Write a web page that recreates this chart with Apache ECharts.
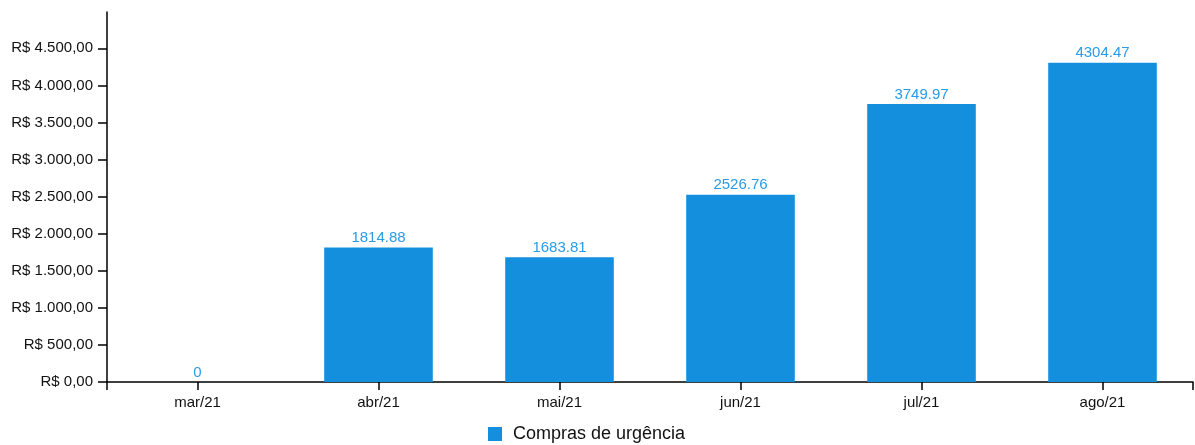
<!DOCTYPE html>
<html>
<head>
<meta charset="utf-8">
<script src="https://cdn.jsdelivr.net/npm/echarts@6/dist/echarts.min.js"></script>
<style>
  html, body { margin: 0; padding: 0; background: #fff; }
  #chart_001 { width: 1195px; height: 445px; }
</style>
</head>
<body>
<div id="chart_001"></div>
<script>
var meses = ['mar/21', 'abr/21', 'mai/21', 'jun/21', 'jul/21', 'ago/21'];
var compras = [0, 1814.88, 1683.81, 2526.76, 3749.97, 4304.47];
var yMax = 4990;

function reais(v) {
    return 'R$ ' + v.toLocaleString('pt-BR', { minimumFractionDigits: 2, maximumFractionDigits: 2 });
}

var myChart = echarts.init(document.getElementById('chart_001'));
var fonte = 'Liberation Sans, Arial, sans-serif';

var option = {
    animation: false,
    textStyle: { fontFamily: fonte },
    grid: { left: 107, right: 2, top: 12, bottom: 63 },
    legend: {
        data: ['Compras de urgência'],
        left: 488,
        top: 425,
        padding: 0,
        itemWidth: 14,
        itemHeight: 14,
        itemGap: 10,
        icon: 'rect',
        textStyle: { fontSize: 18, color: '#111', fontFamily: fonte, padding: [0, 0, 0, 6] }
    },
    xAxis: [
        {
            type: 'category',
            data: meses,
            axisLine: { lineStyle: { color: '#000', width: 1.5 } },
            axisTick: { show: true, inside: false, alignWithLabel: true, length: 8, lineStyle: { color: '#000', width: 1.5 } },
            axisLabel: { color: '#111', fontSize: 15, margin: 13, fontFamily: fonte }
        },
        {
            // só para os ticks das pontas do eixo
            type: 'value',
            position: 'bottom',
            min: 0, max: 1, interval: 1,
            axisLine: { show: false },
            axisTick: { show: true, inside: false, length: 8, lineStyle: { color: '#000', width: 1.5 } },
            axisLabel: { show: false },
            splitLine: { show: false }
        }
    ],
    yAxis: {
        type: 'value',
        min: 0,
        max: yMax,
        interval: 500,
        axisLine: { show: true, lineStyle: { color: '#000', width: 1.5 } },
        axisTick: { show: true, inside: false, length: 9, lineStyle: { color: '#000', width: 1.5 } },
        splitLine: { show: false },
        axisLabel: {
            color: '#111',
            fontSize: 15,
            margin: 14,
            showMaxLabel: false,
            fontFamily: fonte,
            formatter: function (v) { return reais(v); }
        }
    },
    series: [
        {
            name: 'Compras de urgência',
            type: 'bar',
            data: compras,
            barWidth: '60%',
            itemStyle: { color: '#138fde' },
            label: {
                show: true,
                position: 'top',
                distance: 2,
                color: '#2a9be8',
                fontSize: 15,
                fontFamily: fonte,
                formatter: function (p) { return String(p.value); }
            }
        }
    ]
};

myChart.setOption(option);
</script>
</body>
</html>
